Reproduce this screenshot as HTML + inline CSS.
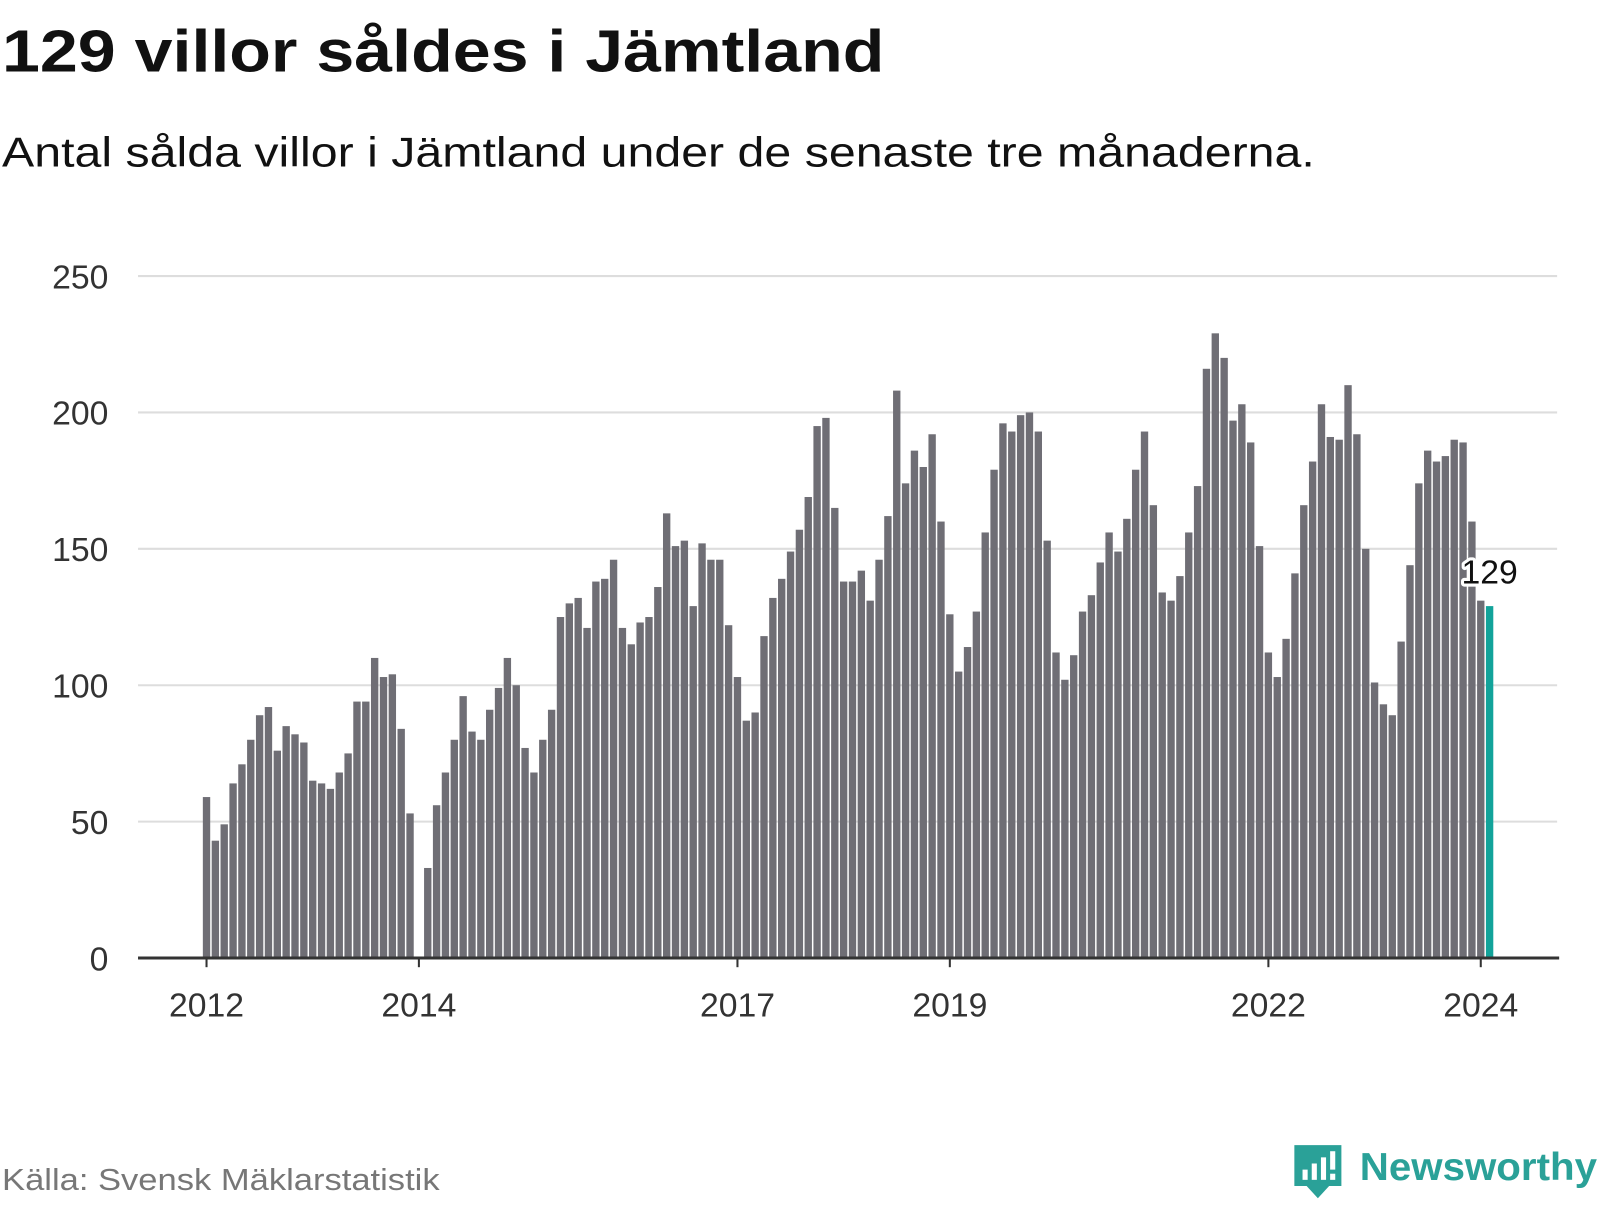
<!DOCTYPE html>
<html><head><meta charset="utf-8"><style>
body{margin:0;background:#fff;width:1600px;height:1200px;overflow:hidden;font-family:"Liberation Sans","DejaVu Sans",sans-serif}
</style></head><body>
<svg width="1600" height="1200" id="svg">
<g transform="scale(1.0224)">
<text x="2" y="70" font-size="58" font-weight="bold" fill="#111" textLength="863" lengthAdjust="spacingAndGlyphs">129 villor såldes i Jämtland</text>
<text x="2" y="163" font-size="41" fill="#111" textLength="1284" lengthAdjust="spacingAndGlyphs">Antal sålda villor i Jämtland under de senaste tre månaderna.</text>
<g id="grid"></g><g id="bars"></g><g id="xax"></g>
<text x="2" y="1164" font-size="30" fill="#777" textLength="428" lengthAdjust="spacingAndGlyphs">Källa: Svensk Mäklarstatistik</text>
<g>
<path d="M1266 1120 h46 v40 h-12 l-11 12 l-11 -12 h-12 z" fill="#2aa198"/>
<rect x="1274" y="1144" width="5" height="10" fill="#fff"/><rect x="1283" y="1138" width="5" height="16" fill="#fff"/><rect x="1292" y="1132" width="5" height="22" fill="#fff"/><rect x="1301" y="1126" width="5" height="18" fill="#fff"/><rect x="1301" y="1148" width="5" height="6" fill="#fff"/>
<text x="1330" y="1154" font-size="38" font-weight="bold" fill="#2aa198" textLength="232" lengthAdjust="spacingAndGlyphs">Newsworthy</text>
</g>
</g>
</svg>
<script>
const values=[59,43,49,64,71,80,89,92,76,85,82,79,
65,64,62,68,75,94,94,110,103,104,84,53,
0,33,56,68,80,96,83,80,91,99,110,100,
77,68,80,91,125,130,132,121,138,139,146,121,
115,123,125,136,163,151,153,129,152,146,146,122,
103,87,90,118,132,139,149,157,169,195,198,165,
138,138,142,131,146,162,208,174,186,180,192,160,
126,105,114,127,156,179,196,193,199,200,193,153,
112,102,111,127,133,145,156,149,161,179,193,166,
134,131,140,156,173,216,229,220,197,203,189,151,
112,103,117,141,166,182,203,191,190,210,192,150,
101,93,89,116,144,174,186,182,184,190,189,160,
131,129];
const yTicks=[0,50,100,150,200,250];
const xTickLabels=["2012","2014","2017","2019","2022","2024"];
const xTickIndex=[0,24,60,84,120,144];
const NS="http://www.w3.org/2000/svg";
const x=i=>202+i*8.655;
const y=v=>937-v*2.668;
function mk(t,a,p){const e=document.createElementNS(NS,t);for(const k in a)e.setAttribute(k,a[k]);p.appendChild(e);return e;}
const grid=document.getElementById('grid'),bars=document.getElementById('bars'),xax=document.getElementById('xax');
yTicks.forEach(v=>{
 if(v>0){const l=mk('line',{x1:135,x2:1523,y1:y(v),y2:y(v),stroke:'#ddd','stroke-width':2},grid);
 
 }
 const t=mk('text',{x:106,y:y(v)+12,'font-size':33,'text-anchor':'end',fill:'#333'},grid);t.textContent=v;
 
 
});
values.forEach((v,i)=>{
 if(!v)return;
 const last=i===values.length-1;
 const r=mk('rect',{x:x(i)-3.6,y:y(v),width:7.2,height:v*2.668,fill:last?'#12a39a':'#6f6e75'},bars);
 
 
});
const ax=mk('line',{x1:135,x2:1525,y1:937,y2:937,stroke:'#333','stroke-width':3},xax);


xTickIndex.forEach((ix,k)=>{
 mk('line',{x1:x(ix),x2:x(ix),y1:937,y2:946,stroke:'#333','stroke-width':2},xax);
 const t=mk('text',{x:x(ix),y:994,'font-size':33,'text-anchor':'middle',fill:'#333'},xax);t.textContent=xTickLabels[k];
 
 
});
const li=values.length-1;
const lab=mk('text',{x:x(li),y:y(values[li])-22,'font-size':33,'text-anchor':'middle',fill:'#111',stroke:'#fff','stroke-width':6,'paint-order':'stroke','stroke-linejoin':'round'},xax);
lab.textContent=values[li];


</script>
</body></html>
